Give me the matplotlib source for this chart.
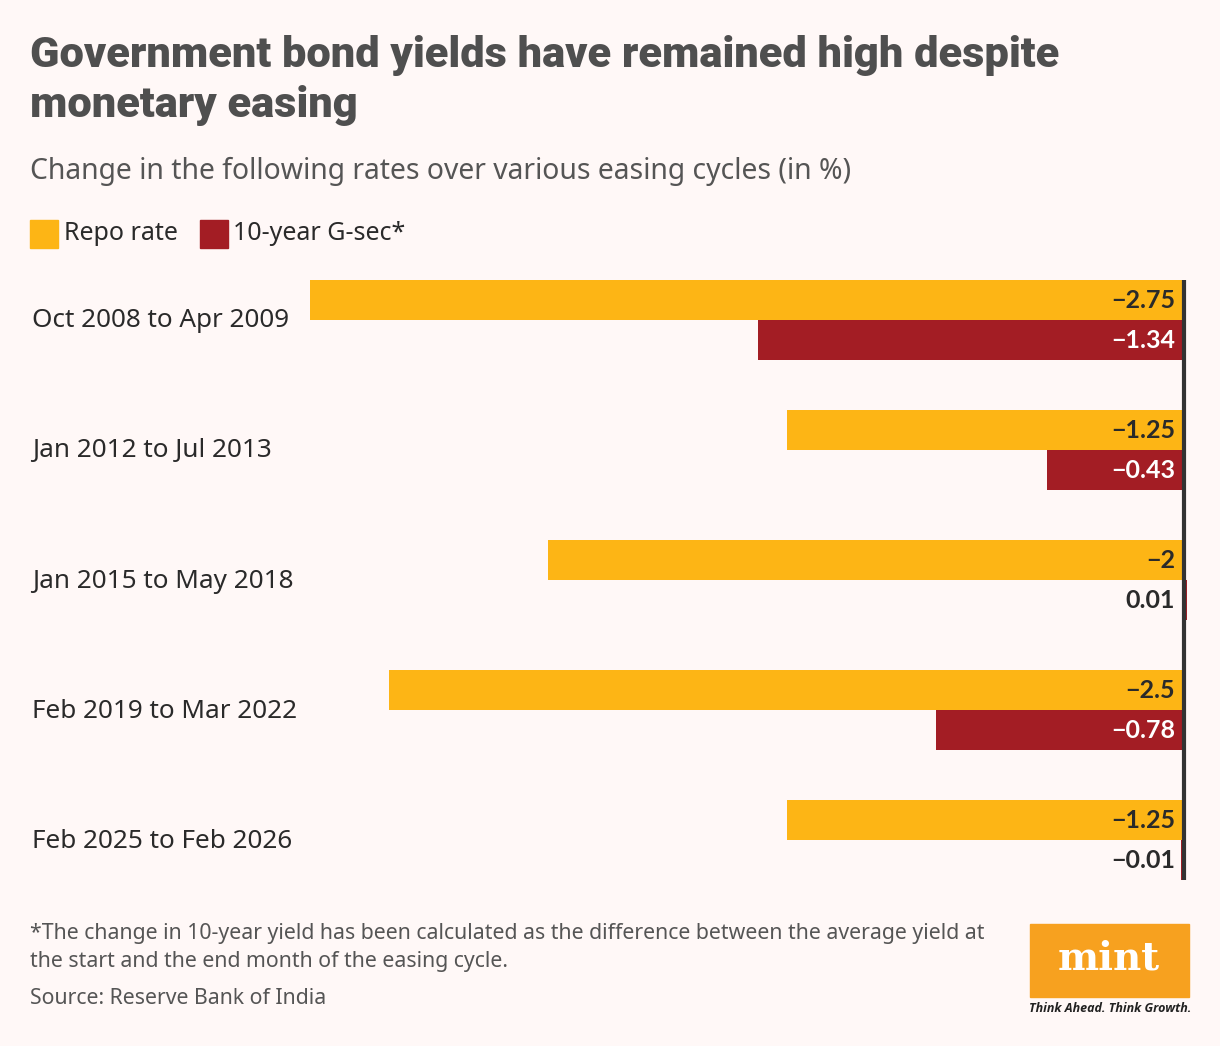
import matplotlib
matplotlib.use("Agg")
import matplotlib.pyplot as plt
from matplotlib.patches import Rectangle

categories = ["Oct 2008 to Apr 2009", "Jan 2012 to Jul 2013", "Jan 2015 to May 2018",
              "Feb 2019 to Mar 2022", "Feb 2025 to Feb 2026"]
repo = [-2.75, -1.25, -2.0, -2.5, -1.25]
gsec = [-1.34, -0.43, 0.01, -0.78, -0.01]
repo_labels = ["\u22122.75", "\u22121.25", "\u22122", "\u22122.5", "\u22121.25"]
gsec_labels = ["\u22121.34", "\u22120.43", "0.01", "\u22120.78", "\u22120.01"]

BG = "#FFF8F7"
YEL = "#FDB515"
RED = "#A31D24"
DARK = "#2A2A2A"
GREY = "#555555"

W, H = 1220, 1046
fig = plt.figure(figsize=(W / 100, H / 100), dpi=100, facecolor=BG)

def fx(px):
    return px / W

def fy(py):
    return 1 - py / H

font = "Noto Sans"

# axes: x from 300 to 1192 px, y from 280 to 880 px
ax_l, ax_r, ax_t, ax_b = 300, 1192, 280, 880
ax = fig.add_axes([fx(ax_l), fy(ax_b), fx(ax_r - ax_l), (ax_b - ax_t) / H])
ax.set_facecolor(BG)
scale = 318.0
zero_px = 1184
ax.set_xlim(-(zero_px - ax_l) / scale, (ax_r - zero_px) / scale)
ax.set_ylim(600, 0)
for s in ax.spines.values():
    s.set_visible(False)
ax.set_xticks([])
ax.set_yticks([])

gap = 130
bh = 40
for i, cat in enumerate(categories):
    y0 = i * gap
    ax.barh(y0 + bh / 2, repo[i], height=bh, color=YEL, left=0)
    ax.barh(y0 + bh * 1.5, gsec[i], height=bh, color=RED, left=0)
    lx = -9 / scale
    ax.text(lx, y0 + bh / 2 + 1, repo_labels[i], ha="right", va="center",
            fontsize=18, fontweight="bold", color=DARK, family="Lato")
    big = abs(gsec[i]) > 0.2
    ax.text(lx, y0 + bh * 1.5 + 1, gsec_labels[i], ha="right", va="center",
            fontsize=18, fontweight="bold", color="white" if big else DARK, family="Lato")
    fig.text(fx(32), fy(y0 + ax_t + bh + 1), cat, ha="left", va="center",
             fontsize=18.8, color=DARK, family=font)

ax.axvline(0, color="#333333", lw=3, ymin=0, ymax=1)

# title (fit first line to reference width)
t1 = fig.text(fx(30), fy(55), "Government bond yields have remained high despite",
              ha="left", va="center", fontsize=32, fontweight="heavy", color="#4F4F4F",
              family="Roboto")
renderer = fig.canvas.get_renderer()
wpx = t1.get_window_extent(renderer).width
tsize = 32 * 1032 / wpx
t1.set_fontsize(tsize)
fig.text(fx(30), fy(105), "monetary easing",
         ha="left", va="center", fontsize=tsize, fontweight="heavy", color="#4F4F4F",
         family="Roboto")
fig.text(fx(30), fy(171), "Change in the following rates over various easing cycles (in %)",
         ha="left", va="center", fontsize=20.4, color=GREY, family=font)

# legend
fig.patches.append(Rectangle((fx(30), fy(248)), fx(28), 28 / H, color=YEL,
                             transform=fig.transFigure, figure=fig))
fig.text(fx(64), fy(234), "Repo rate", ha="left", va="center", fontsize=18,
         color=DARK, family=font)
fig.patches.append(Rectangle((fx(200), fy(248)), fx(28), 28 / H, color=RED,
                             transform=fig.transFigure, figure=fig))
fig.text(fx(233), fy(234), "10-year G-sec*", ha="left", va="center", fontsize=18,
         color=DARK, family=font)

# footnote
fig.text(fx(30), fy(933), "*The change in 10-year yield has been calculated as the difference between the average yield at",
         ha="left", va="center", fontsize=15.3, color=GREY, family=font)
fig.text(fx(30), fy(961), "the start and the end month of the easing cycle.",
         ha="left", va="center", fontsize=15.3, color=GREY, family=font)
fig.text(fx(30), fy(999), "Source: Reserve Bank of India",
         ha="left", va="center", fontsize=15.3, color=GREY, family=font)

# logo
fig.patches.append(Rectangle((fx(1030), fy(997)), fx(159), 73 / H, color="#F7A11F",
                             transform=fig.transFigure, figure=fig))
fig.text(fx(1109), fy(958), "mint", ha="center", va="center", fontsize=28,
         fontweight="bold", color="white", family="DejaVu Serif")
fig.text(fx(1110), fy(1009), "Think Ahead. Think Growth.", ha="center", va="center",
         fontsize=9.0, fontstyle="italic", fontweight="bold", color="#222222", family="Open Sans")

fig.savefig("out.png", dpi=100, facecolor=BG)
